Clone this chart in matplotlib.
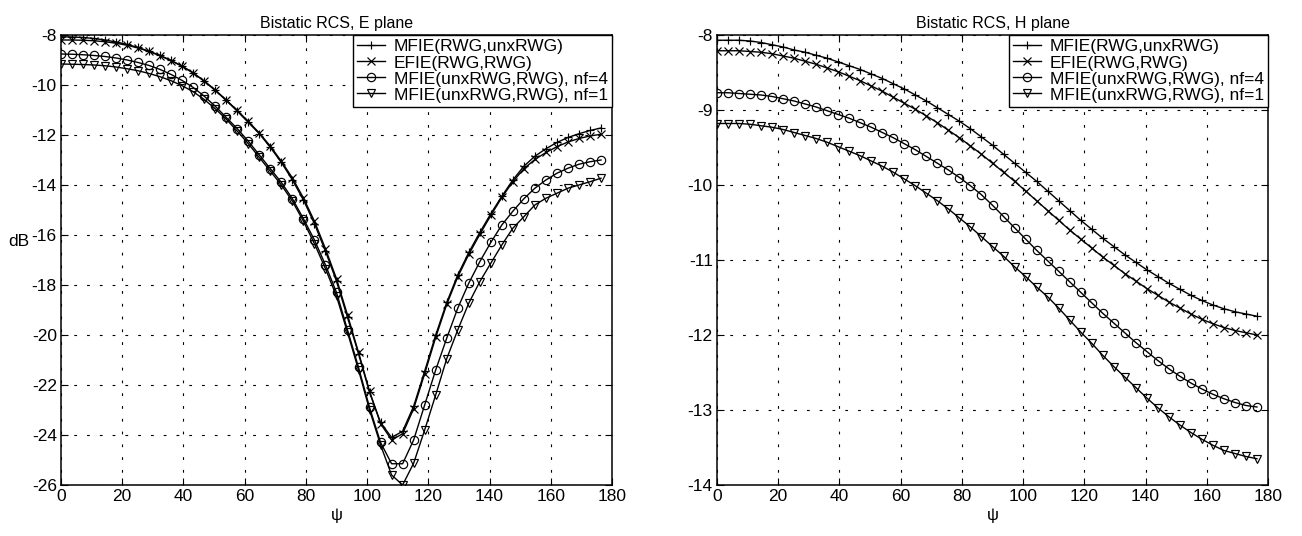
import matplotlib

matplotlib.use("Agg")

import matplotlib.pyplot as plt
import numpy as np

# scattering angle, degrees (50 samples, 3.6 deg step)
psi = [0, 3.6, 7.2, 10.8, 14.4, 18, 21.6, 25.2, 28.8, 32.4,
       36, 39.6, 43.2, 46.8, 50.4, 54, 57.6, 61.2, 64.8, 68.4,
       72, 75.6, 79.2, 82.8, 86.4, 90, 93.6, 97.2, 100.8, 104.4,
       108, 111.6, 115.2, 118.8, 122.4, 126, 129.6, 133.2, 136.8, 140.4,
       144, 147.6, 151.2, 154.8, 158.4, 162, 165.6, 169.2, 172.8, 176.4]

labels = ["MFIE(RWG,unxRWG)", "EFIE(RWG,RWG)",
          "MFIE(unxRWG,RWG), nf=4", "MFIE(unxRWG,RWG), nf=1"]
markers = ["+", "x", "o", "v"]

# E plane, dB
e_mfie = [-8.07, -8.08, -8.10, -8.14, -8.20, -8.28, -8.38, -8.50, -8.65, -8.82,
          -9.02, -9.25, -9.52, -9.85, -10.22, -10.62, -11.05, -11.50, -11.95, -12.50,
          -13.10, -13.80, -14.60, -15.55, -16.65, -17.85, -19.30, -20.75, -22.30, -23.50,
          -24.10, -23.85, -22.85, -21.45, -20.00, -18.70, -17.60, -16.70, -15.90, -15.15,
          -14.45, -13.80, -13.25, -12.85, -12.55, -12.30, -12.10, -11.95, -11.82, -11.72]
e_efie = [-8.20, -8.20, -8.21, -8.23, -8.27, -8.33, -8.41, -8.52, -8.66, -8.83,
          -9.03, -9.25, -9.52, -9.84, -10.20, -10.60, -11.02, -11.46, -11.92, -12.45,
          -13.05, -13.72, -14.52, -15.45, -16.55, -17.75, -19.20, -20.70, -22.25, -23.55,
          -24.20, -23.95, -22.95, -21.55, -20.10, -18.78, -17.68, -16.78, -15.98, -15.22,
          -14.50, -13.87, -13.35, -12.98, -12.70, -12.47, -12.28, -12.14, -12.04, -11.97]
e_nf4 = [-8.76, -8.77, -8.79, -8.82, -8.86, -8.92, -9.00, -9.10, -9.22, -9.38,
         -9.58, -9.82, -10.10, -10.45, -10.85, -11.30, -11.75, -12.25, -12.80, -13.35,
         -13.90, -14.55, -15.35, -16.20, -17.20, -18.30, -19.80, -21.30, -22.90, -24.30,
         -25.15, -25.15, -24.20, -22.80, -21.40, -20.13, -18.93, -17.93, -17.07, -16.30,
         -15.60, -15.05, -14.55, -14.13, -13.80, -13.53, -13.33, -13.17, -13.07, -13.00]
e_nf1 = [-9.16, -9.17, -9.18, -9.20, -9.23, -9.28, -9.35, -9.43, -9.54, -9.67,
         -9.83, -10.03, -10.27, -10.58, -10.95, -11.37, -11.85, -12.35, -12.90, -13.45,
         -14.00, -14.65, -15.45, -16.35, -17.35, -18.45, -19.90, -21.40, -23.00, -24.40,
         -25.60, -26.00, -25.13, -23.80, -22.40, -20.95, -19.80, -18.73, -17.87, -17.13,
         -16.40, -15.73, -15.27, -14.80, -14.53, -14.33, -14.13, -14.00, -13.87, -13.73]

# H plane, dB
h_mfie = [-8.07, -8.07, -8.07, -8.08, -8.10, -8.13, -8.16, -8.20, -8.23, -8.27,
          -8.31, -8.36, -8.41, -8.46, -8.52, -8.58, -8.65, -8.72, -8.80, -8.88,
          -8.97, -9.06, -9.15, -9.25, -9.36, -9.47, -9.59, -9.71, -9.83, -9.95,
          -10.08, -10.21, -10.34, -10.47, -10.59, -10.71, -10.82, -10.93, -11.03, -11.13,
          -11.22, -11.31, -11.39, -11.47, -11.54, -11.60, -11.65, -11.69, -11.72, -11.75]
h_efie = [-8.21, -8.21, -8.21, -8.22, -8.23, -8.25, -8.28, -8.31, -8.35, -8.39,
          -8.44, -8.49, -8.55, -8.61, -8.68, -8.75, -8.83, -8.91, -8.99, -9.08,
          -9.17, -9.27, -9.37, -9.48, -9.59, -9.71, -9.83, -9.95, -10.08, -10.21,
          -10.34, -10.47, -10.60, -10.72, -10.84, -10.96, -11.07, -11.18, -11.28, -11.38,
          -11.47, -11.56, -11.64, -11.72, -11.79, -11.85, -11.90, -11.94, -11.97, -12.00]
h_nf4 = [-8.77, -8.77, -8.78, -8.79, -8.80, -8.82, -8.85, -8.88, -8.92, -8.96,
         -9.01, -9.06, -9.11, -9.17, -9.23, -9.30, -9.37, -9.45, -9.53, -9.62,
         -9.71, -9.80, -9.90, -10.01, -10.13, -10.27, -10.42, -10.57, -10.72, -10.87,
         -11.01, -11.15, -11.29, -11.43, -11.57, -11.71, -11.84, -11.97, -12.10, -12.22,
         -12.34, -12.45, -12.55, -12.64, -12.72, -12.79, -12.85, -12.90, -12.94, -12.96]
h_nf1 = [-9.18, -9.18, -9.18, -9.19, -9.21, -9.23, -9.26, -9.30, -9.34, -9.38,
         -9.43, -9.49, -9.55, -9.61, -9.68, -9.75, -9.83, -9.92, -10.01, -10.11,
         -10.21, -10.32, -10.44, -10.56, -10.69, -10.82, -10.95, -11.09, -11.22, -11.36,
         -11.49, -11.64, -11.80, -11.96, -12.11, -12.27, -12.42, -12.56, -12.70, -12.84,
         -12.97, -13.09, -13.20, -13.30, -13.39, -13.47, -13.54, -13.58, -13.62, -13.65]

plt.rcParams["font.family"] = ["Liberation Sans", "DejaVu Sans"]
plt.rcParams["axes.unicode_minus"] = False

fig = plt.figure(figsize=(13.02, 5.36), dpi=100)
ax_e = fig.add_axes([61 / 1302, 51 / 536, 551 / 1302, 450 / 536])
ax_h = fig.add_axes([717 / 1302, 51 / 536, 551 / 1302, 450 / 536])


def draw(ax, series, title, ylim, yticks):
    for vals, mk, lab in zip(series, markers, labels):
        ax.plot(psi, vals, color="black", lw=1.0, marker=mk, ms=6 if mk != "v" else 5.5,
                mfc="none", mec="black", mew=0.85, label=lab)
    ax.set_xlim(0, 180)
    ax.set_ylim(*ylim)
    ax.set_xticks(np.arange(0, 181, 20))
    ax.set_yticks(yticks)
    ax.grid(True, color="black", lw=0.8, linestyle=(0, (2.5, 9)))
    ax.tick_params(direction="in", top=True, right=True, length=5, width=0.8,
                   labelsize=12.5, pad=3)
    for sp in ax.spines.values():
        sp.set_linewidth(1.1)
    ax.set_title(title, fontsize=11.5, pad=5)
    ax.set_xlabel("\u03c8", fontsize=12, labelpad=3)
    leg = ax.legend(loc="upper right", fontsize=12.5, frameon=True, fancybox=False,
                    edgecolor="black", framealpha=1, borderaxespad=0, borderpad=0.25,
                    labelspacing=0.05, handlelength=1.6, handletextpad=0.5)
    leg.get_frame().set_linewidth(1.0)


draw(ax_e, [e_mfie, e_efie, e_nf4, e_nf1], "Bistatic RCS, E plane", (-26, -8),
     np.arange(-26, -7, 2))
draw(ax_h, [h_mfie, h_efie, h_nf4, h_nf1], "Bistatic RCS, H plane", (-14, -8),
     np.arange(-14, -7, 1))
ax_e.set_ylabel("dB", fontsize=12.5, rotation=0, va="center", ha="center")
ax_e.yaxis.set_label_coords(-0.076, 0.54)

fig.savefig("out.png", dpi=100)
